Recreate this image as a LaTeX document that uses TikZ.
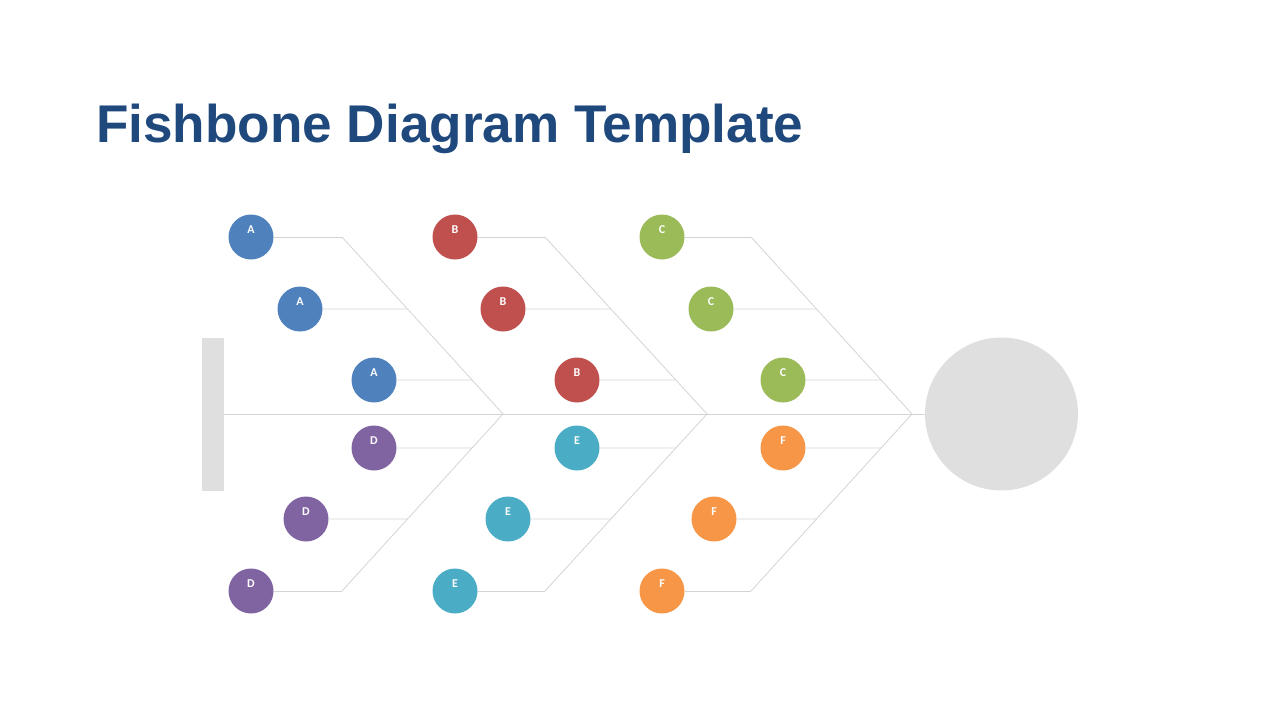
\documentclass[tikz,border=0pt]{standalone}
\usepackage{fontspec}
\setmainfont{Liberation Sans}
\newfontfamily\letterfont{Carlito}
\usepackage{tikz}
\definecolor{titleblue}{HTML}{1F497D}
\definecolor{headgray}{HTML}{DFDFDF}
\definecolor{bonegray}{HTML}{D4D4D4}
\definecolor{colA}{HTML}{4F81BD}
\definecolor{colB}{HTML}{C0504D}
\definecolor{colC}{HTML}{9BBB59}
\definecolor{colD}{HTML}{8064A2}
\definecolor{colE}{HTML}{4BACC6}
\definecolor{colF}{HTML}{F79646}
\tikzstyle{cause} = [circle, minimum size=45pt, inner sep=0pt, text=white, text depth=14pt, font=\letterfont\bfseries\fontsize{12}{12}\selectfont]
\tikzstyle{bone} = [draw=bonegray, line width=0.8pt]

\begin{document}
\begin{tikzpicture}[x=1pt, y=-1pt]
    \useasboundingbox (0,0) rectangle (1280,720);
    % Title
    \node (title) [anchor=base west, inner sep=0pt, text=titleblue, font=\bfseries\fontsize{53.1}{60}\selectfont] at (96,142.5) {Fishbone Diagram Template};
    % Tail and head
    \node (tail) [fill=headgray, minimum width=22pt, minimum height=153pt, inner sep=0pt] at (213,414) {};
    \node (head) [circle, fill=headgray, minimum size=153pt, inner sep=0pt] at (1001.5,414) {};
    % Bone points
    \coordinate (ab_top) at (342,237);
    \coordinate (ab_mid) at (503,414);
    \coordinate (ab_bot) at (342,591);
    \coordinate (be_top) at (545,237);
    \coordinate (be_mid) at (707,414);
    \coordinate (be_bot) at (545,591);
    \coordinate (cf_top) at (751,237);
    \coordinate (cf_mid) at (912,414);
    \coordinate (cf_bot) at (751,591);
    % Spine and bones
    \draw [bone] (tail.east) -- (head.west);
    \draw [bone] (ab_top) -- (ab_mid) -- (ab_bot);
    \draw [bone] (be_top) -- (be_mid) -- (be_bot);
    \draw [bone] (cf_top) -- (cf_mid) -- (cf_bot);
    % Causes
    \node (a1) [cause, fill=colA] at (251,237) {A};
    \node (a2) [cause, fill=colA] at (300,309) {A};
    \node (a3) [cause, fill=colA] at (374,380) {A};
    \node (d1) [cause, fill=colD] at (374,448) {D};
    \node (d2) [cause, fill=colD] at (306,519) {D};
    \node (d3) [cause, fill=colD] at (251,591) {D};
    \node (b1) [cause, fill=colB] at (455,237) {B};
    \node (b2) [cause, fill=colB] at (503,309) {B};
    \node (b3) [cause, fill=colB] at (577,380) {B};
    \node (e1) [cause, fill=colE] at (577,448) {E};
    \node (e2) [cause, fill=colE] at (508,519) {E};
    \node (e3) [cause, fill=colE] at (455,591) {E};
    \node (c1) [cause, fill=colC] at (662,237) {C};
    \node (c2) [cause, fill=colC] at (711,309) {C};
    \node (c3) [cause, fill=colC] at (783,380) {C};
    \node (f1) [cause, fill=colF] at (783,448) {F};
    \node (f2) [cause, fill=colF] at (714,519) {F};
    \node (f3) [cause, fill=colF] at (662,591) {F};
    % Ticks
    \draw [bone] (a1.east) -- (ab_top);
    \draw [bone] (a2.east) -- (intersection of ab_top--ab_mid and a2.center--a2.east);
    \draw [bone] (a3.east) -- (intersection of ab_top--ab_mid and a3.center--a3.east);
    \draw [bone] (d1.east) -- (intersection of ab_bot--ab_mid and d1.center--d1.east);
    \draw [bone] (d2.east) -- (intersection of ab_bot--ab_mid and d2.center--d2.east);
    \draw [bone] (d3.east) -- (ab_bot);
    \draw [bone] (b1.east) -- (be_top);
    \draw [bone] (b2.east) -- (intersection of be_top--be_mid and b2.center--b2.east);
    \draw [bone] (b3.east) -- (intersection of be_top--be_mid and b3.center--b3.east);
    \draw [bone] (e1.east) -- (intersection of be_bot--be_mid and e1.center--e1.east);
    \draw [bone] (e2.east) -- (intersection of be_bot--be_mid and e2.center--e2.east);
    \draw [bone] (e3.east) -- (be_bot);
    \draw [bone] (c1.east) -- (cf_top);
    \draw [bone] (c2.east) -- (intersection of cf_top--cf_mid and c2.center--c2.east);
    \draw [bone] (c3.east) -- (intersection of cf_top--cf_mid and c3.center--c3.east);
    \draw [bone] (f1.east) -- (intersection of cf_bot--cf_mid and f1.center--f1.east);
    \draw [bone] (f2.east) -- (intersection of cf_bot--cf_mid and f2.center--f2.east);
    \draw [bone] (f3.east) -- (cf_bot);
\end{tikzpicture}
\end{document}
